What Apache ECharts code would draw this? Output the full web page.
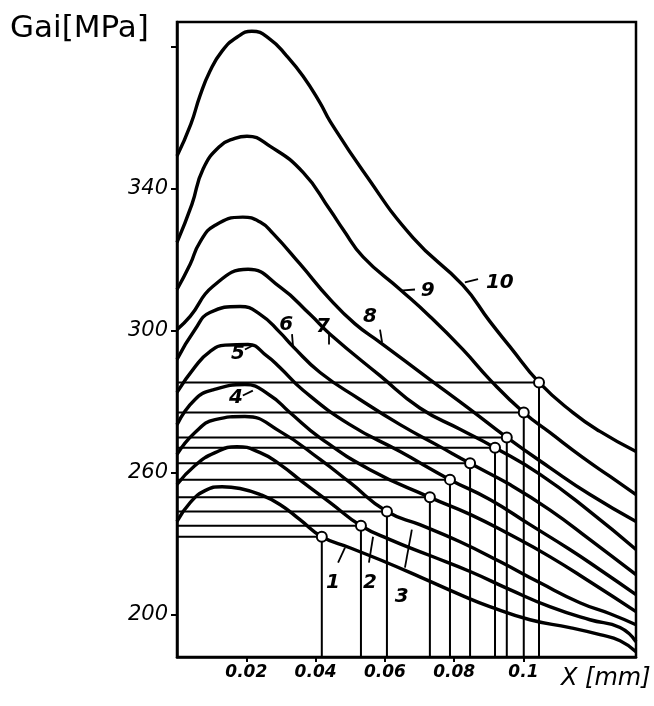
<!DOCTYPE html>
<html>
<head>
<meta charset="utf-8">
<script src="https://cdn.jsdelivr.net/npm/echarts@6/dist/echarts.min.js"></script>
<style>html,body{margin:0;padding:0;background:#fff}#c{width:654px;height:706px}</style>
</head>
<body>
<div id="c"></div>
<script>
// ---- data (X in mm, stress in MPa as drawn) ----
const curve1 = [[0,246.2],[0.0038,251.5],[0.0081,254.9],[0.013,256.0],[0.0182,255.5],[0.024,253.8],[0.0297,251.0],[0.0355,246.7],[0.0418,241.9],[0.0499,238.8],[0.0586,235.4],[0.0701,230.6],[0.0817,225.6],[0.0903,222.2],[0.1019,218.5],[0.1134,216.3],[0.1221,214.3],[0.1279,212.6],[0.1325,209.5]];
const curve2 = [[0,256.6],[0.0052,262.0],[0.011,265.6],[0.0173,267.3],[0.024,265.6],[0.0297,262.3],[0.0364,257.2],[0.0442,251.5],[0.0531,245.0],[0.0615,241.1],[0.073,236.6],[0.0846,232.1],[0.0961,227.0],[0.1076,222.2],[0.1192,218.5],[0.1279,216.3],[0.1325,212.3]];
const curve3 = [[0,265.1],[0.0052,271.3],[0.011,274.9],[0.0196,275.8],[0.0297,271.6],[0.0413,263.7],[0.0499,257.2],[0.0606,249.0],[0.0701,245.3],[0.0817,240.5],[0.0932,234.9],[0.1048,228.9],[0.1163,223.3],[0.125,220.2],[0.1325,217.1]];
const curve4 = [[0,273.5],[0.0052,280.6],[0.0104,283.3],[0.0196,284.8],[0.0268,281.8],[0.0325,277.0],[0.0413,269.8],[0.0557,260.8],[0.073,253.0],[0.0846,248.2],[0.0961,242.5],[0.1076,236.3],[0.1192,229.2],[0.1325,220.8]];
const curve5 = [[0,282.6],[0.0052,289.8],[0.0095,294.1],[0.0139,295.9],[0.0205,296.1],[0.026,292.8],[0.0297,289.6],[0.0364,283.2],[0.0499,273.5],[0.0644,265.9],[0.0788,258.0],[0.0903,252.4],[0.1019,245.3],[0.1134,238.3],[0.1221,232.6],[0.1325,225.6]];
const curve6 = [[0,291.9],[0.0052,300.3],[0.0095,305.1],[0.0182,306.8],[0.024,304.6],[0.0297,299.5],[0.0335,295.5],[0.0413,288.2],[0.0528,280.6],[0.0644,273.5],[0.0759,267.3],[0.0846,262.6],[0.0961,256.6],[0.1076,249.5],[0.1192,241.1],[0.1325,231.2]];
const curve7 = [[0,300.3],[0.0038,304.0],[0.0104,312.5],[0.0205,317.3],[0.0297,312.3],[0.0384,304.6],[0.0442,299.0],[0.0586,287.3],[0.0701,278.2],[0.0817,272.2],[0.0918,267.0],[0.1048,259.5],[0.1192,249.0],[0.1325,238.3]];
const curve8 = [[0,311.6],[0.0038,318.7],[0.0066,324.9],[0.011,329.7],[0.019,332.0],[0.024,330.6],[0.0277,327.4],[0.0355,318.8],[0.0442,308.8],[0.0514,301.9],[0.0586,296.7],[0.073,286.2],[0.0846,277.8],[0.0952,269.9],[0.1076,261.4],[0.1192,253.8],[0.1325,246.2]];
const curve9 = [[0,324.9],[0.0043,335.6],[0.0075,345.5],[0.0124,352.0],[0.0167,354.2],[0.0202,354.8],[0.0268,352.0],[0.0364,344.6],[0.0442,334.0],[0.0479,328.6],[0.0537,320.8],[0.0644,311.6],[0.073,304.0],[0.0825,294.7],[0.0903,286.2],[0.1001,276.9],[0.1076,271.3],[0.1172,264.2],[0.125,258.9],[0.1325,253.8]];
const curve10 = [[0,349.2],[0.004,358.2],[0.0066,366.1],[0.0095,373.1],[0.013,378.8],[0.0173,382.7],[0.0216,384.4],[0.0268,382.2],[0.0317,377.4],[0.0364,371.7],[0.0413,364.2],[0.0442,359.0],[0.0537,345.0],[0.0681,326.2],[0.0825,312.8],[0.0903,302.6],[0.0961,295.5],[0.1045,285.4],[0.1143,276.9],[0.1221,271.6],[0.1325,265.9]];
const curves = [curve1,curve2,curve3,curve4,curve5,curve6,curve7,curve8,curve9,curve10];

// marked points (circles) on each curve
const markX = [0.0418,0.0531,0.0606,0.073,0.0788,0.0846,0.0918,0.0952,0.1001,0.1045];
const markY = [241.9,245.0,249.0,253.0,258.0,262.6,267.0,269.9,276.9,285.4];

// curve number labels: text anchor and leader stroke (data units)
const labelNames = ['1','2','3','4','5','6','7','8','9','10'];
const labelAt = [[0.045,229.0],[0.0557,229.0],[0.0649,225.0],[0.017,281.2],[0.0176,293.5],[0.0315,301.7],[0.0421,301.2],[0.0557,304.0],[0.0724,311.1],[0.0932,313.6]];
const leaderFrom = [[0.0465,234.6],[0.0554,234.6],[0.0658,233.2],[0.019,281.7],[0.0196,294.7],[0.0332,299.0],[0.0439,299.0],[0.0586,300.3],[0.0644,311.3],[0.0831,313.6]];
const leaderTo = [[0.0485,238.8],[0.0566,241.9],[0.0678,243.9],[0.0219,283.1],[0.0225,296.1],[0.0335,295.5],[0.0439,296.1],[0.0592,296.7],[0.0687,311.6],[0.0869,314.5]];

// axes
const xMin = 0, xMax = 0.1325;
const yMin = 208, yMax = 387;
const xTickValues = [0.02,0.04,0.06,0.08,0.1];
const xTickLabels = ['0.02','0.04','0.06','0.08','0.1'];
const yTickValues = [220,260,300,340,380];
const yLabelValues = [220,260,300,340];
const yTickLabels = ['200','260','300','340'];

const chart = echarts.init(document.getElementById('c'), null, {renderer:'canvas'});
const ink = '#000';
const series = [];
curves.forEach((c,i)=>{
  series.push({type:'line', name:'curve'+(i+1), data:c, smooth:0.5, showSymbol:false,
    lineStyle:{color:ink,width:3.4}, z:3, silent:true});
});
series.push({type:'lines', coordinateSystem:'cartesian2d', polyline:true, silent:true, z:2,
  lineStyle:{color:ink,width:2,opacity:1},
  data: markX.map((x,i)=>({coords:[[xMin,markY[i]],[x,markY[i]],[x,yMin]]}))});
series.push({type:'scatter', data: markX.map((x,i)=>[x,markY[i]]), symbol:'circle', symbolSize:10,
  itemStyle:{color:'#fff',borderColor:ink,borderWidth:2,opacity:1}, z:6, silent:true});
series.push({type:'lines', coordinateSystem:'cartesian2d', silent:true, z:4,
  lineStyle:{color:ink,width:1.8,opacity:1},
  data: leaderFrom.map((p,i)=>({coords:[p,leaderTo[i]]}))});
series.push({type:'scatter', symbolSize:0, silent:true, z:5,
  itemStyle:{opacity:1, color:ink},
  data: labelAt.map((p,i)=>({value:p, name:labelNames[i]})),
  label:{show:true, position:'inside', formatter:p=>p.name, color:'#000', opacity:1,
    fontFamily:'DejaVu Sans', fontStyle:'italic', fontWeight:'bold', fontSize:20}});

chart.setOption({
  animation:false,
  backgroundColor:'#fff',
  grid:{left:177,right:18,top:22,bottom:49,show:true,borderColor:ink,borderWidth:2.5,backgroundColor:'transparent'},
  xAxis:{type:'value',min:xMin,max:xMax,
    axisLine:{show:true,lineStyle:{color:ink,width:2.5}},
    axisTick:{show:true,length:5,lineStyle:{color:ink,width:2},customValues:xTickValues},
    axisLabel:{show:true,customValues:xTickValues,formatter:v=>{const k=xTickValues.findIndex(t=>Math.abs(t-v)<1e-6);return k>=0?xTickLabels[k]:'';},
      color:ink,fontFamily:'DejaVu Sans',fontStyle:'italic',fontWeight:'bold',fontSize:17,margin:7},
    splitLine:{show:false}},
  yAxis:{type:'value',min:yMin,max:yMax,
    axisLine:{show:true,lineStyle:{color:ink,width:2.5}},
    axisTick:{show:true,length:6,lineStyle:{color:ink,width:2},customValues:yTickValues},
    axisLabel:{show:true,customValues:yLabelValues,formatter:v=>{const k=yLabelValues.findIndex(t=>Math.abs(t-v)<1e-6);return k>=0?yTickLabels[k]:'';},
      color:ink,fontFamily:'DejaVu Sans',fontStyle:'italic',fontSize:21,margin:9},
    splitLine:{show:false}},
  graphic:[
    {type:'text',left:10,top:13,style:{text:'Gai[MPa]',fill:ink,font:'31px "DejaVu Sans"'}},
    {type:'text',left:561,top:667,style:{text:'X [mm]',fill:ink,font:'italic 24px "DejaVu Sans"'}}
  ],
  series: series
});
</script>
</body>
</html>
